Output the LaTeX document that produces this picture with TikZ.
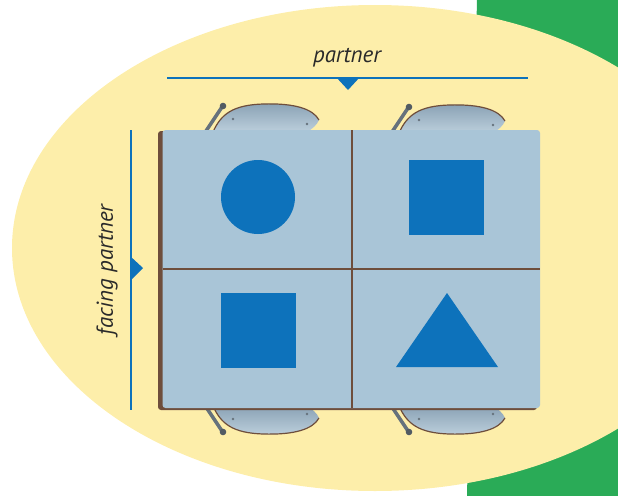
\documentclass[tikz,border=0pt]{standalone}
\usepackage{fontspec}
\newfontfamily\handfont{PT Sans}
\usepackage{xcolor}
\usetikzlibrary{positioning}
\definecolor{matyellow}{HTML}{FDEEAA}
\definecolor{matgreen}{HTML}{2AAB57}
\definecolor{shapeblue}{HTML}{0D72BB}
\definecolor{desktop}{HTML}{A9C5D7}
\definecolor{deskedge}{HTML}{6E4E3C}
\definecolor{seatdark}{HTML}{8AA2B5}
\definecolor{seatlight}{HTML}{BCCFDC}
\definecolor{postgray}{HTML}{66727C}
\definecolor{inkgray}{HTML}{2A2A2A}

\tikzset{
    chair/.pic={
        % post behind the seat
        \draw[line width=3.5pt, postgray] (3,1) -- (19,-23);
        \fill[postgray!80!black] (20,-24) circle (3.3);
        % seat, then its rim along the back
        \shade[top color=seatdark, bottom color=seatlight] (10,2) .. controls (18,-16) and (30,-25) .. (60,-26)
            .. controls (92,-27) and (110,-21) .. (116,-10) .. controls (114,-5) and (109,-1) .. (104,2) -- cycle;
        \draw[deskedge, line width=1.2pt] (10,2) .. controls (18,-16) and (30,-25) .. (60,-26)
            .. controls (92,-27) and (110,-21) .. (116,-10);
        % screws
        \fill[postgray] (30,-11) circle (1.3);
        \fill[postgray] (104,-6) circle (1.3);
    },
}

\begin{document}
\begin{tikzpicture}[
    x=1pt, y=-1pt,
    guide/.style={shapeblue, line width=2.2pt},
    marker/.style={fill=shapeblue},
    cue/.style={font=\handfont\itshape\fontsize{23}{25}\selectfont, text=inkgray, inner sep=0pt},
    piece/.style={fill=shapeblue, draw=none, inner sep=0pt},
]
\useasboundingbox (0,0) rectangle (618,495);
\begin{scope}
\clip (0,0) rectangle (618,495);

% --- Backdrop: green strip and yellow mat
\fill[matgreen] (477,-2) -- (620,-2) -- (620,497) -- (467,497) -- cycle;
\fill[matyellow] (375,248) ellipse [x radius=363, y radius=243];

% --- Guide lines with their markers
\coordinate (topL) at (167,78);
\coordinate (topR) at (528,78);
\coordinate (sideT) at (131,130);
\coordinate (sideB) at (131,410);
\draw[guide] (topL) -- (topR);
\fill[marker] (336,77) -- (360,77) -- (348,90) -- cycle;
\draw[guide] (sideT) -- (sideB);
\fill[marker] (130,256) -- (130,281) -- (143,268) -- cycle;

% --- Chairs on both sides
\pic at (203,130) {chair};
\pic at (389,131) {chair};
\pic[yscale=-1] at (203,408) {chair};
\pic[yscale=-1] at (389,408) {chair};

% --- Desks
\fill[deskedge, rounded corners=3pt] (158,131) rectangle (537,410);
\fill[desktop, rounded corners=3pt] (162.5,130) rectangle (540,408);
\draw[deskedge, line width=2pt] (352,130) -- (352,408);
\draw[deskedge, line width=2pt] (163,269) -- (540,269);
\end{scope}

% --- Shapes on the desks
\node[piece, circle, minimum size=74pt] (circ) at (258,197) {};
\node[piece, minimum size=75pt] (sqtr) at (446.5,197.5) {};
\node[piece, minimum size=75pt] (sqbl) at (258.5,330.5) {};
\fill[shapeblue] (447,293) -- (498,367) -- (396,367) -- cycle;

% --- Labels
\node[cue] (partnerlbl) at (347,58) {partner};
\node[cue, rotate=90] (facinglbl) at (107,270) {facing partner};

\end{tikzpicture}
\end{document}
